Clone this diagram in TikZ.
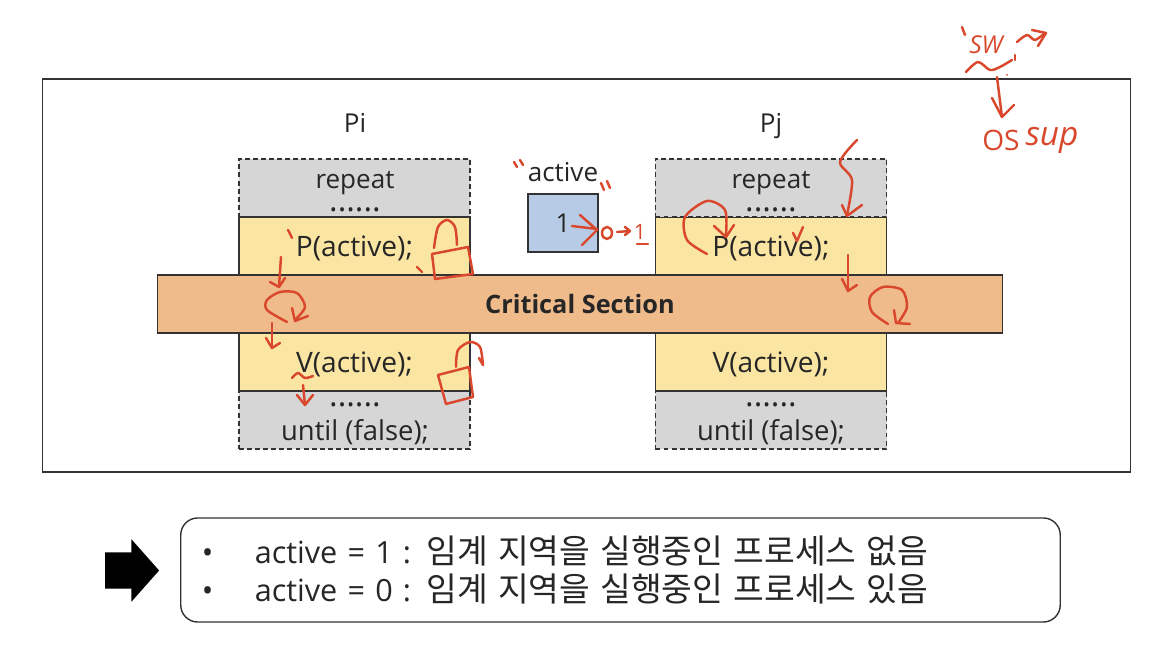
\documentclass[tikz,border=0pt]{standalone}
\usepackage{fontspec}
\setmainfont{Open Sans}
\newfontfamily\krfont{Noto Sans CJK KR}
\usepackage{xcolor}
\usetikzlibrary{shapes,arrows,positioning}

\definecolor{inkred}{HTML}{D9482C}
\definecolor{textdark}{HTML}{262626}
\definecolor{graybox}{HTML}{D6D6D6}
\definecolor{yellowbox}{HTML}{FBE5A2}
\definecolor{orangebox}{HTML}{F0BB8B}
\definecolor{bluebox}{HTML}{B7CBE6}

\tikzset{
  boxtext/.style={text=textdark, font=\fontsize{7.4}{9}\selectfont},
  linetext/.style={boxtext, anchor=base, inner sep=0pt},
  dotstext/.style={linetext, font=\fontsize{9.2}{9}\selectfont},
  greyblock/.style={draw=black!80, dash pattern=on 1.4pt off 0.9pt, line width=0.4pt, fill=graybox,
    minimum width=2.31cm, minimum height=0.58cm, inner sep=0pt},
  yellowblock/.style={boxtext, draw=black!80, line width=0.4pt, fill=yellowbox,
    minimum width=2.31cm, minimum height=0.58cm, inner sep=0pt, text height=8pt, text depth=1.8pt,
    font=\fontsize{8}{9}\selectfont},
  ink/.style={draw=inkred, line width=0.7pt, line cap=round, line join=round},
  inktext/.style={text=inkred, inner sep=0pt}
}

\begin{document}
\begin{tikzpicture}[x=0.01cm, y=-0.01cm]
\useasboundingbox (0,0) rectangle (1150,652);

% Frame
\node[draw=black!80, line width=0.4pt, minimum width=10.87cm, minimum height=3.93cm, inner sep=0] (frame) at (586.5,275.5) {};

% Process names
\node[linetext] (pi) at (355,133) {Pi};
\node[linetext] (pj) at (771,133) {Pj};

% Process i
\node[greyblock] (pirepeat) at (354.5,188) {};
\node[greyblock] (piuntil) at (354.5,420) {};
\node[yellowblock] (pilock) at (354.5,246) {P(active);};
\node[yellowblock] (piunlock) at (354.5,362) {V(active);};
\node[linetext] (pirepeattext) at (355,189) {repeat};
\node[dotstext] (pirepeatdots) at (355,212) {......};
\node[dotstext] (piuntildots) at (355,407) {......};
\node[linetext, font=\fontsize{7.8}{9}\selectfont] (piuntiltext) at (355,441) {until (false);};

% Process j
\node[yellowblock] (pjlock) at (771,246) {P(active);};
\node[greyblock] (pjrepeat) at (771,188) {};
\node[greyblock] (pjuntil) at (771,420) {};
\node[yellowblock] (pjunlock) at (771,362) {V(active);};
\node[linetext] (pjrepeattext) at (771,189) {repeat};
\node[dotstext] (pjrepeatdots) at (771,212) {......};
\node[dotstext] (pjuntildots) at (771,407) {......};
\node[linetext, font=\fontsize{7.8}{9}\selectfont] (pjuntiltext) at (771,441) {until (false);};

% Shared section
\node[boxtext, draw=black!80, line width=0.4pt, fill=orangebox, minimum width=8.44cm, minimum height=0.58cm,
  inner sep=0pt, text height=7pt, text depth=1.8pt, font=\fontsize{7.2}{9}\selectfont\bfseries] (critical) at (580,304) {Critical Section};

% Semaphore
\node[linetext] (activename) at (563,182) {active};
\node[boxtext, draw=black!80, line width=0.4pt, fill=bluebox, minimum width=0.7cm, minimum height=0.58cm, inner sep=0pt,
  text height=7.4pt, text depth=1.8pt] (activebox) at (563,223) {1};

% Summary
\node[single arrow, fill=black, inner ysep=0.175cm, inner xsep=0pt, minimum width=0.61cm, minimum height=0.54cm,
  single arrow head extend=0.13cm, single arrow tip angle=97] (summaryarrow) at (124,570.5) {};
\node[boxtext, draw=black!80, line width=0.4pt, rounded corners=0.17cm, minimum width=8.79cm, minimum height=1.04cm,
  text width=8.37cm, align=left, inner sep=0pt, font=\fontsize{8.7}{10.6}\selectfont] (summary) at (620.5,570) {%
  \makebox[0.53cm][l]{•}active = 1 : {\krfont\fontsize{9.5}{10.6}\selectfont 임계 지역을 실행중인 프로세스 없음}\\
  \makebox[0.53cm][l]{•}active = 0 : {\krfont\fontsize{9.5}{10.6}\selectfont 임계 지역을 실행중인 프로세스 있음}};

% Pen marks, left process
\draw[ink] (288,230) -- (292,238);
\draw[ink] (281,257) -- (279,287);
\draw[ink] (270,282) -- (279,287) -- (285,278);
\draw[ink] plot[smooth] coordinates {(287,322) (267,310) (267,300) (280,292) (297,293) (305,307) (295,320)};
\draw[ink] (292,308) -- (295,321) -- (308,316);
\draw[ink] (272,323) -- (272,348);
\draw[ink] (266,338) -- (272,348) -- (280,343);
\draw[ink] plot[smooth] coordinates {(292,378) (298,373) (305,378) (313,376)};
\draw[ink] (303,385) -- (305,405);
\draw[ink] (297,395) -- (305,405) -- (313,395);
\draw[ink] (432,254) -- (468,247) -- (473,274) -- (435,279) -- cycle;
\draw[ink] plot[smooth] coordinates {(434,248) (438,227) (447,220) (455,227) (457,245)};
\draw[ink] (417,267) -- (422,272);
\draw[ink] (438,375) -- (469,367) -- (473,397) -- (446,404) -- cycle;
\draw[ink] plot[smooth] coordinates {(456,367) (458,350) (470,342) (480,347) (483,365)};
\draw[ink] (479,358) -- (483,365);

% Pen marks, semaphore
\draw[ink] (514,162) -- (517,167);
\draw[ink] (520,160) -- (523,165);
\draw[ink] (601,183) -- (604,190);
\draw[ink] (607,181) -- (610,188);
\draw[ink] (572,226) -- (597,229);
\draw[ink] (580,215) -- (597,230) -- (582,245);
\draw[ink] (607,233) ellipse (5 and 6);
\draw[ink] (617,232) -- (630,231);
\draw[ink] (625,227) -- (630,231) -- (625,235);
\node[inktext, font=\fontsize{6}{7}\selectfont] (newvalue) at (640,232) {1};
\draw[ink] (637,244) -- (648,244);

% Pen marks, right process
\draw[ink] plot[smooth] coordinates {(857,140) (840,162) (852,180) (847,215)};
\draw[ink] (842,205) -- (847,216) -- (862,205);
\draw[ink] plot[smooth] coordinates {(707,254) (687,240) (685,217) (707,201) (725,210) (726,235)};
\draw[ink] (714,226) -- (726,237) -- (734,225);
\draw[ink] (793,233) -- (797,241) -- (803,227);
\draw[ink] (848,255) -- (848,291);
\draw[ink] (842,279) -- (848,291) -- (857,285);
\draw[ink] plot[smooth] coordinates {(888,324) (872,312) (870,297) (883,287) (902,290) (907,307) (898,323)};
\draw[ink] (894,310) -- (896,323) -- (910,324);

% Pen marks, top right
\draw[ink] (962,27) -- (965,35);
\node[inktext, font=\fontsize{7}{8}\selectfont\itshape] (swnote) at (986,45) {SW};
\draw[ink] plot[smooth] coordinates {(966,72) (978,62) (990,70) (1000,67) (1012,60)};
\draw[ink] (1015,55) -- (1015,60);
\fill[inkred] (1007,75) circle (1);
\draw[ink] plot[smooth] coordinates {(1017,42) (1027,35) (1035,40) (1045,33)};
\draw[ink] (1032,30) -- (1046,33) -- (1038,46);
\draw[ink] (997,77) -- (1002,117);
\draw[ink] (992,98) -- (1002,117) -- (1014,105);
\node[inktext, font=\fontsize{8}{9}\selectfont] (osnote) at (1001,140) {OS};
\node[inktext, font=\fontsize{9.5}{9}\selectfont\itshape] (supnote) at (1052,140) {sup};
\end{tikzpicture}
\end{document}
